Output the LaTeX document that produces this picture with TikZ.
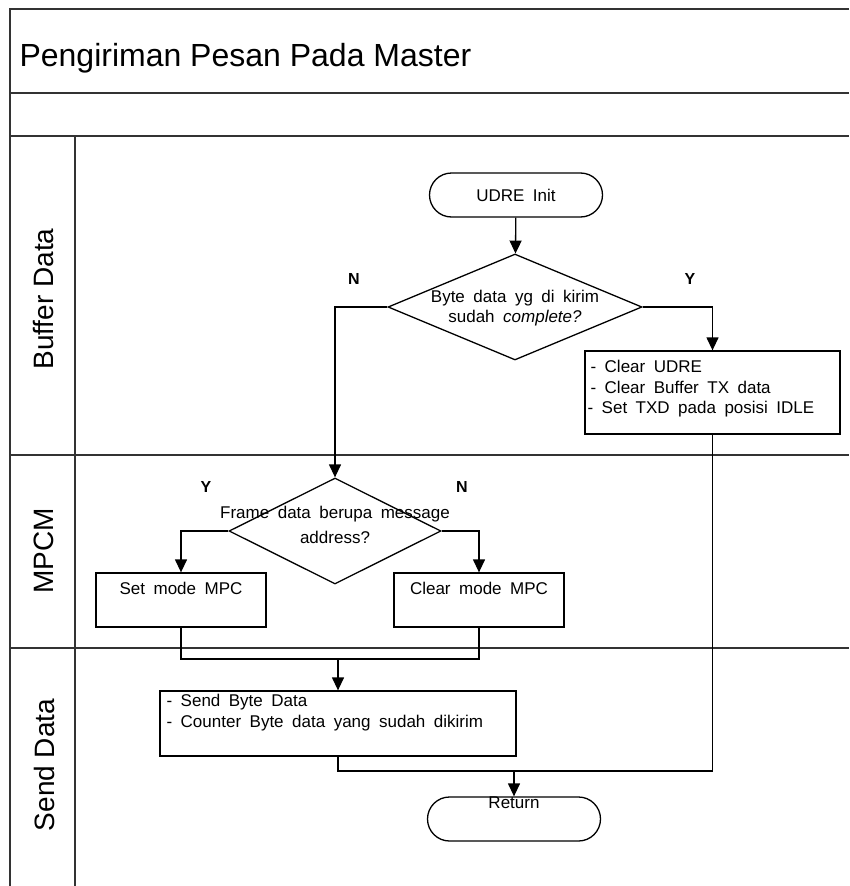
\documentclass[tikz,border=0pt]{standalone}
\usepackage{fontspec}
\setmainfont{Liberation Sans}
\newfontfamily\boxfont{Liberation Sans}[WordSpace=1.8]
\usetikzlibrary{shapes.geometric,arrows.meta,positioning}

\tikzset{
  frameline/.style={line width=1.8pt, draw=black!80},
  boxtext/.style={font=\boxfont\fontsize{17}{20.5}\selectfont},
  procbox/.style={draw, line width=1.3pt, rectangle, inner sep=0pt, boxtext},
  termbox/.style={draw, line width=1.3pt, rectangle, rounded corners=22pt,
    minimum width=173pt, minimum height=44pt, inner sep=0pt, boxtext},
  decide/.style={draw, line width=1.3pt, diamond, inner sep=0pt, boxtext},
  wire/.style={line width=1.3pt},
  conn/.style={line width=1.3pt, -{Triangle[length=13pt,width=12pt]}},
  yn/.style={font=\fontsize{16}{18}\selectfont\bfseries},
  lanelabel/.style={rotate=90, font=\fontsize{28}{30}\selectfont},
}

\begin{document}
\begin{tikzpicture}[x=1pt, y=-1pt]
\useasboundingbox (0,0) rectangle (849,886);

% swimlane frame
\draw[frameline] (849,9) -- (10,9) -- (10,886);
\foreach \ly in {93,136,455,648}
  \draw[frameline] (10,\ly) -- (849,\ly);
\draw[frameline] (75,136) -- (75,886);

\node[anchor=base west, font=\fontsize{32}{34}\selectfont] (title) at (16,66) {Pengiriman Pesan Pada Master};

\node[lanelabel] (laneBuf) at (44,299) {Buffer Data};
\node[lanelabel] (laneMpcm) at (44,551) {MPCM};
\node[lanelabel] (laneSend) at (44,765) {Send Data};

% flow
\node[termbox] (init) at (516,195) {UDRE Init};
\node[decide, minimum width=254pt, minimum height=106pt,
  label={[boxtext, align=center, yshift=-1pt]center:Byte data yg di kirim\\sudah \textit{complete?}}]
  (cekByte) at (515,307) {};
\node[procbox, minimum width=255pt, minimum height=83pt,
  label={[boxtext, align=left, anchor=north west, inner sep=0pt, xshift=3pt, yshift=-10pt]north west:%
    \hspace*{3pt}- Clear UDRE\\\hspace*{3pt}- Clear Buffer TX data\\- Set TXD pada posisi IDLE}]
  (clearBuf) at (712.5,392.5) {};
\node[decide, minimum width=212pt, minimum height=106pt,
  label={[boxtext, align=center, yshift=6pt, font=\boxfont\fontsize{17}{25}\selectfont]center:Frame data berupa message\\address?}]
  (cekFrame) at (335,531) {};
\node[procbox, minimum width=170pt, minimum height=54pt,
  label={[boxtext, anchor=north, inner sep=0pt, yshift=-10pt]north:Set mode MPC}]
  (setMpc) at (181,600) {};
\node[procbox, minimum width=170pt, minimum height=54pt,
  label={[boxtext, anchor=north, inner sep=0pt, yshift=-10pt]north:Clear mode MPC}]
  (clrMpc) at (479,600) {};
\node[procbox, minimum width=356pt, minimum height=65pt,
  label={[boxtext, align=left, anchor=north west, inner sep=0pt, xshift=7pt, yshift=-4pt]north west:%
    - Send Byte Data\\- Counter Byte data yang sudah dikirim}]
  (sendByte) at (338,723.5) {};
\node[termbox,
  label={[boxtext, anchor=north, inner sep=0pt]north:Return}]
  (ret) at (514,819) {};

\coordinate (joinMpc) at (338,659);
\coordinate (joinRet) at (514,771);

% connectors
\draw[conn] (init) -- (cekByte);
\draw[conn] (cekByte.west) -| (cekFrame.north);
\draw[conn] (cekByte.east) -| (clearBuf.north);
\draw[conn] (cekFrame.west) -| (setMpc.north);
\draw[conn] (cekFrame.east) -| (clrMpc.north);
\draw[wire] (setMpc.south) |- (joinMpc) -| (clrMpc.south);
\draw[conn] (joinMpc) -- (sendByte.north);
\draw[wire] (sendByte.south) |- (joinRet);
\draw[wire] (clearBuf.south) |- (joinRet);
\draw[conn] (joinRet) -- (ret.north);

% branch labels
\node[yn] (nByte) at (354,279) {N};
\node[yn] (yByte) at (690,279) {Y};
\node[yn] (yFrame) at (206,487) {Y};
\node[yn] (nFrame) at (462,487) {N};

\end{tikzpicture}
\end{document}
